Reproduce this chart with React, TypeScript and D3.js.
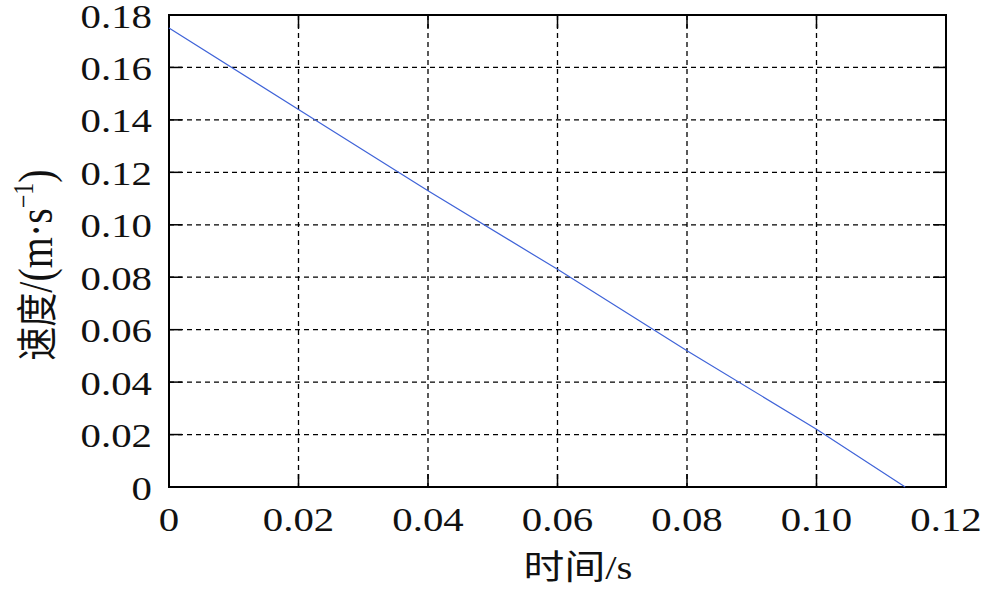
import React from "react";
import * as d3 from "d3";

const timeValues = [0, 0.02, 0.04, 0.06, 0.08, 0.1, 0.1137];
const speedValues = [0.175, 0.144, 0.113, 0.083, 0.052, 0.022, 0];
const xTicks = [0, 0.02, 0.04, 0.06, 0.08, 0.1, 0.12];
const xTickLabels = ["0", "0.02", "0.04", "0.06", "0.08", "0.10", "0.12"];
const yTicks = [0, 0.02, 0.04, 0.06, 0.08, 0.1, 0.12, 0.14, 0.16, 0.18];
const yTickLabels = ["0", "0.02", "0.04", "0.06", "0.08", "0.10", "0.12", "0.14", "0.16", "0.18"];
const xTitle = "时间/s";
const yTitleCJK = "速度";
const yTitleMain = "/(m·s";
const yTitleSup = "−1";
const yTitleEnd = ")";

const W = 984;
const H = 589;
const L = 169, R = 946, T = 15, B = 487;
const FONT = "'Liberation Serif', 'Times New Roman', 'Noto Sans CJK SC', serif";

export default function App() {
  const x = d3.scaleLinear().domain([0, 0.12]).range([L, R]);
  const y = d3.scaleLinear().domain([0, 0.18]).range([B, T]);
  const line = d3
    .line<number>()
    .x((_, i) => x(timeValues[i]))
    .y((d) => y(d));
  const tickLen = 13;
  return (
    <svg
      width={W}
      height={H}
      style={{ position: "absolute", left: 0, top: 0, background: "#fff" }}
      fontFamily={FONT}
    >
      <rect x={0} y={0} width={W} height={H} fill="#fff" />
      {/* grid */}
      {xTicks.slice(1, -1).map((t) => (
        <line key={"gx" + t} x1={x(t)} x2={x(t)} y1={T} y2={B} stroke="#000" strokeWidth={1.3} strokeDasharray="5,4" />
      ))}
      {yTicks.slice(1, -1).map((t) => (
        <line key={"gy" + t} x1={L} x2={R} y1={y(t)} y2={y(t)} stroke="#000" strokeWidth={1.3} strokeDasharray="5,4" />
      ))}
      {/* ticks */}
      {xTicks.map((t) => (
        <g key={"tx" + t}>
          <line x1={x(t)} x2={x(t)} y1={B} y2={B - tickLen} stroke="#000" strokeWidth={1.5} />
          <line x1={x(t)} x2={x(t)} y1={T} y2={T + tickLen} stroke="#000" strokeWidth={1.5} />
        </g>
      ))}
      {yTicks.map((t) => (
        <g key={"ty" + t}>
          <line x1={L} x2={L + tickLen} y1={y(t)} y2={y(t)} stroke="#000" strokeWidth={1.5} />
          <line x1={R} x2={R - tickLen} y1={y(t)} y2={y(t)} stroke="#000" strokeWidth={1.5} />
        </g>
      ))}
      {/* frame */}
      <rect x={L} y={T} width={R - L} height={B - T} fill="none" stroke="#000" strokeWidth={2} />
      {/* data line */}
      <path d={line(speedValues) || ""} fill="none" stroke="#3f63d8" strokeWidth={1.2} />
      {/* tick labels */}
      {xTicks.map((t, i) => (
        <text
          key={"lx" + t}
          transform={`translate(${x(t)},${B + 44}) scale(1.2,1)`}
          textAnchor="middle"
          fontSize={34}
          fill="#111"
        >
          {xTickLabels[i]}
        </text>
      ))}
      {yTicks.map((t, i) => (
        <text
          key={"ly" + t}
          transform={`translate(${152},${y(t) + 12.5}) scale(1.2,1)`}
          textAnchor="end"
          fontSize={34}
          fill="#111"
        >
          {yTickLabels[i]}
        </text>
      ))}
      {/* axis titles */}
      <text
        transform={`translate(578,579) scale(1.2,1)`}
        textAnchor="middle"
        fontSize={34}
        fill="#111"
      >
        {xTitle}
      </text>
      <text
        transform={`translate(52,265) rotate(-90) scale(1,1.2)`}
        textAnchor="middle"
        fontSize={34}
        fill="#111"
      >
        <tspan>{yTitleCJK}</tspan>
        <tspan fontSize={40}>{yTitleMain}</tspan>
        <tspan fontSize={24} dy={-16}>{yTitleSup}</tspan>
        <tspan fontSize={40} dy={16}>{yTitleEnd}</tspan>
      </text>
    </svg>
  );
}
